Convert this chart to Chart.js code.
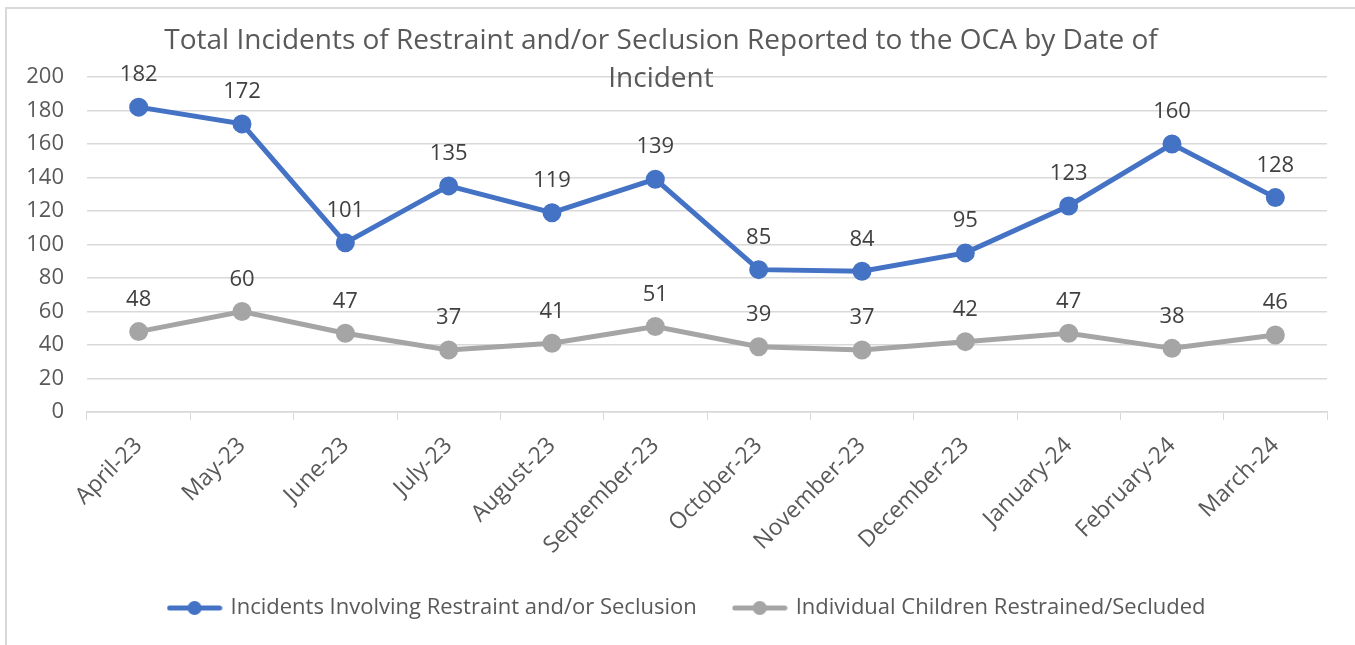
<!DOCTYPE html>
<html>
<head>
<meta charset="utf-8">
<script src="https://cdn.jsdelivr.net/npm/chart.js@4.4.1/dist/chart.umd.min.js"></script>
<style>
  html, body { margin: 0; padding: 0; background: #fff; }
  #wrap { width: 1355px; height: 645px; }
</style>
</head>
<body>
<div id="wrap"><canvas id="chart" width="1355" height="645"></canvas></div>
<script>
// chart data
const months = ['April-23', 'May-23', 'June-23', 'July-23', 'August-23', 'September-23',
    'October-23', 'November-23', 'December-23', 'January-24', 'February-24', 'March-24'];
const incidents = [182, 172, 101, 135, 119, 139, 85, 84, 95, 123, 160, 128];
const children = [48, 60, 47, 37, 41, 51, 39, 37, 42, 47, 38, 46];
const yTicks = [0, 20, 40, 60, 80, 100, 120, 140, 160, 180, 200];
const titleLines = ['Total Incidents of Restraint and/or Seclusion Reported to the OCA by Date of', 'Incident'];

const FONT = '"Open Sans", sans-serif';
const TEXT = '#595959';
const BLUE = '#4472C4';
const GRAY = '#A5A5A5';

// little line+dot images for the legend
function legendMark(color) {
    const c = document.createElement('canvas');
    c.width = 56; c.height = 16;
    const g = c.getContext('2d');
    g.strokeStyle = color;
    g.lineWidth = 5;
    g.lineCap = 'round';
    g.beginPath();
    g.moveTo(3, 8); g.lineTo(53, 8);
    g.stroke();
    g.fillStyle = color;
    g.beginPath();
    g.arc(28, 8, 7, 0, Math.PI * 2);
    g.fill();
    return c;
}

const frame = {
    id: 'frame',
    beforeDraw(chart) {
        const ctx = chart.ctx;
        ctx.save();
        ctx.strokeStyle = '#d9d9d9';
        ctx.lineWidth = 2;
        ctx.beginPath();
        ctx.moveTo(6, chart.height);
        ctx.lineTo(6, 8);
        ctx.lineTo(chart.width, 8);
        ctx.stroke();
        ctx.restore();
    }
};

// legend sits a bit right of the plot centre in the original
const legendNudge = {
    id: 'legendNudge',
    afterLayout(chart) {
        chart.legend.left += 14;
        chart.legend.right += 14;
    }
};

const titlePlugin = {
    id: 'titleLines',
    afterDraw(chart) {
        const ctx = chart.ctx;
        ctx.save();
        ctx.font = '28px ' + FONT;
        ctx.fillStyle = TEXT;
        ctx.textAlign = 'center';
        ctx.textBaseline = 'middle';
        titleLines.forEach((t, i) => ctx.fillText(t, 661, 41 + i * 38));
        ctx.restore();
    }
};

const pointLabels = {
    id: 'pointLabels',
    afterDatasetsDraw(chart) {
        const ctx = chart.ctx;
        ctx.save();
        ctx.font = '22px ' + FONT;
        ctx.fillStyle = '#404040';
        ctx.textAlign = 'center';
        ctx.textBaseline = 'middle';
        chart.data.datasets.forEach((ds, di) => {
            chart.getDatasetMeta(di).data.forEach((pt, i) => {
                ctx.fillText(String(ds.data[i]), pt.x, pt.y - 32);
            });
        });
        ctx.restore();
    }
};

new Chart(document.getElementById('chart'), {
    type: 'line',
    data: {
        labels: months,
        datasets: [
            {
                label: 'Incidents Involving Restraint and/or Seclusion',
                data: incidents,
                borderColor: BLUE,
                backgroundColor: BLUE,
                borderWidth: 5,
                pointRadius: 7,
                pointHoverRadius: 7,
                tension: 0
            },
            {
                label: 'Individual Children Restrained/Secluded',
                data: children,
                borderColor: GRAY,
                backgroundColor: GRAY,
                borderWidth: 5,
                pointRadius: 7,
                pointHoverRadius: 7,
                tension: 0
            }
        ]
    },
    options: {
        responsive: false,
        animation: false,
        layout: { padding: { top: 77, left: 20, right: 28, bottom: 16 } },
        plugins: {
            title: { display: false },
            tooltip: { enabled: false },
            legend: {
                position: 'bottom',
                labels: {
                    font: { family: FONT, size: 22 },
                    color: TEXT,
                    padding: 38,
                    usePointStyle: true,
                    pointStyleWidth: 50,
                    generateLabels(chart) {
                        const items = Chart.defaults.plugins.legend.labels.generateLabels(chart);
                        items.forEach((it, i) => {
                            it.pointStyle = legendMark(chart.data.datasets[i].borderColor);
                        });
                        return items;
                    }
                }
            }
        },
        scales: {
            x: {
                offset: true,
                grid: {
                    offset: true,
                    drawOnChartArea: false,
                    drawTicks: true,
                    tickLength: 8,
                    color: '#d9d9d9'
                },
                border: { color: '#d9d9d9', width: 1.5 },
                ticks: {
                    color: TEXT,
                    font: { family: FONT, size: 23 },
                    minRotation: 45,
                    maxRotation: 45,
                    autoSkip: false,
                    padding: 12
                },
                afterFit(scale) { scale.height = 147; }
            },
            y: {
                min: 0,
                max: 200,
                afterBuildTicks(scale) { scale.ticks = yTicks.map(v => ({ value: v })); },
                grid: { color: '#d9d9d9', drawTicks: false, lineWidth: 1.5 },
                border: { display: false },
                ticks: {
                    color: TEXT,
                    font: { family: FONT, size: 22 },
                    padding: 23
                },
                afterFit(scale) { scale.width = 67; }
            }
        }
    },
    plugins: [frame, legendNudge, titlePlugin, pointLabels]
});
</script>
</body>
</html>
